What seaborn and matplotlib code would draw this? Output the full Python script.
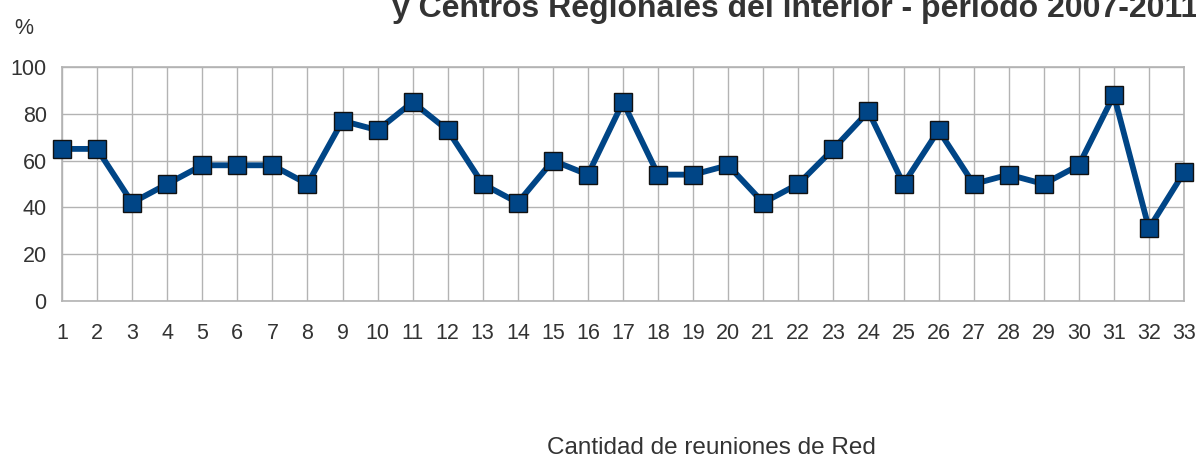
import numpy as np
import pandas as pd
import matplotlib
matplotlib.use("Agg")
import matplotlib.pyplot as plt
import seaborn as sns

# ------------------------------------------------------------
# Data
# ------------------------------------------------------------
reuniones = list(range(1, 34))
porcentaje = [65, 65, 42, 50, 58, 58, 58, 50, 77, 73, 85, 73, 50, 42, 60, 54,
              85, 54, 54, 58, 42, 50, 65, 81, 50, 73, 50, 54, 50, 58, 88, 31, 55]
y_ticks = [0, 20, 40, 60, 80, 100]

titulo = "y Centros Regionales del interior - período 2007-2011"
eje_x = "Cantidad de reuniones de Red"
eje_y = "%"

df = pd.DataFrame({"reunion": reuniones, "pct": porcentaje})

# ------------------------------------------------------------
# Style
# ------------------------------------------------------------
sns.set_style("whitegrid")
plt.rcParams["font.family"] = ["Liberation Sans", "DejaVu Sans"]

grid_col = "#b3b3b3"
text_col = "#333333"
line_col = "#004586"

fig = plt.figure(figsize=(11.96, 4.59), dpi=100)
ax = fig.add_axes([62 / 1196, 1 - 301 / 459, (1184 - 62) / 1196, (301 - 67) / 459])

sns.lineplot(data=df, x="reunion", y="pct", ax=ax, color=line_col,
             linewidth=4.2, marker="s", markersize=13.5,
             markerfacecolor=line_col, markeredgecolor="#111111",
             markeredgewidth=1.0, clip_on=False, zorder=5)

ax.set_xlim(1, 33)
ax.set_ylim(0, 100)
ax.set_xticks(reuniones)
ax.set_yticks(y_ticks)
ax.grid(True, color=grid_col, linewidth=1.0)
for s in ax.spines.values():
    s.set_color(grid_col)
    s.set_linewidth(1.2)

ax.tick_params(axis="both", which="both", colors=grid_col, labelcolor=text_col,
               labelsize=15.5, length=8, width=1.0, direction="out")
ax.tick_params(axis="x", pad=8)
ax.tick_params(axis="y", pad=3)
ax.set_xlabel("")
ax.set_ylabel("")

fig.text(14 / 1196, 1 - 28 / 459, eje_y, fontsize=15.5, color=text_col,
         ha="left", va="center")
# the reference crops the top line of the title, only this line shows
fig.text(392 / 1196, 1 - 17 / 459, titulo, fontsize=23, fontweight="bold",
         color=text_col, ha="left", va="baseline")
fig.text(711 / 1196, 1 - 448 / 459, eje_x, fontsize=17.5, color=text_col,
         ha="center", va="center")

fig.savefig("out.png", dpi=100)
